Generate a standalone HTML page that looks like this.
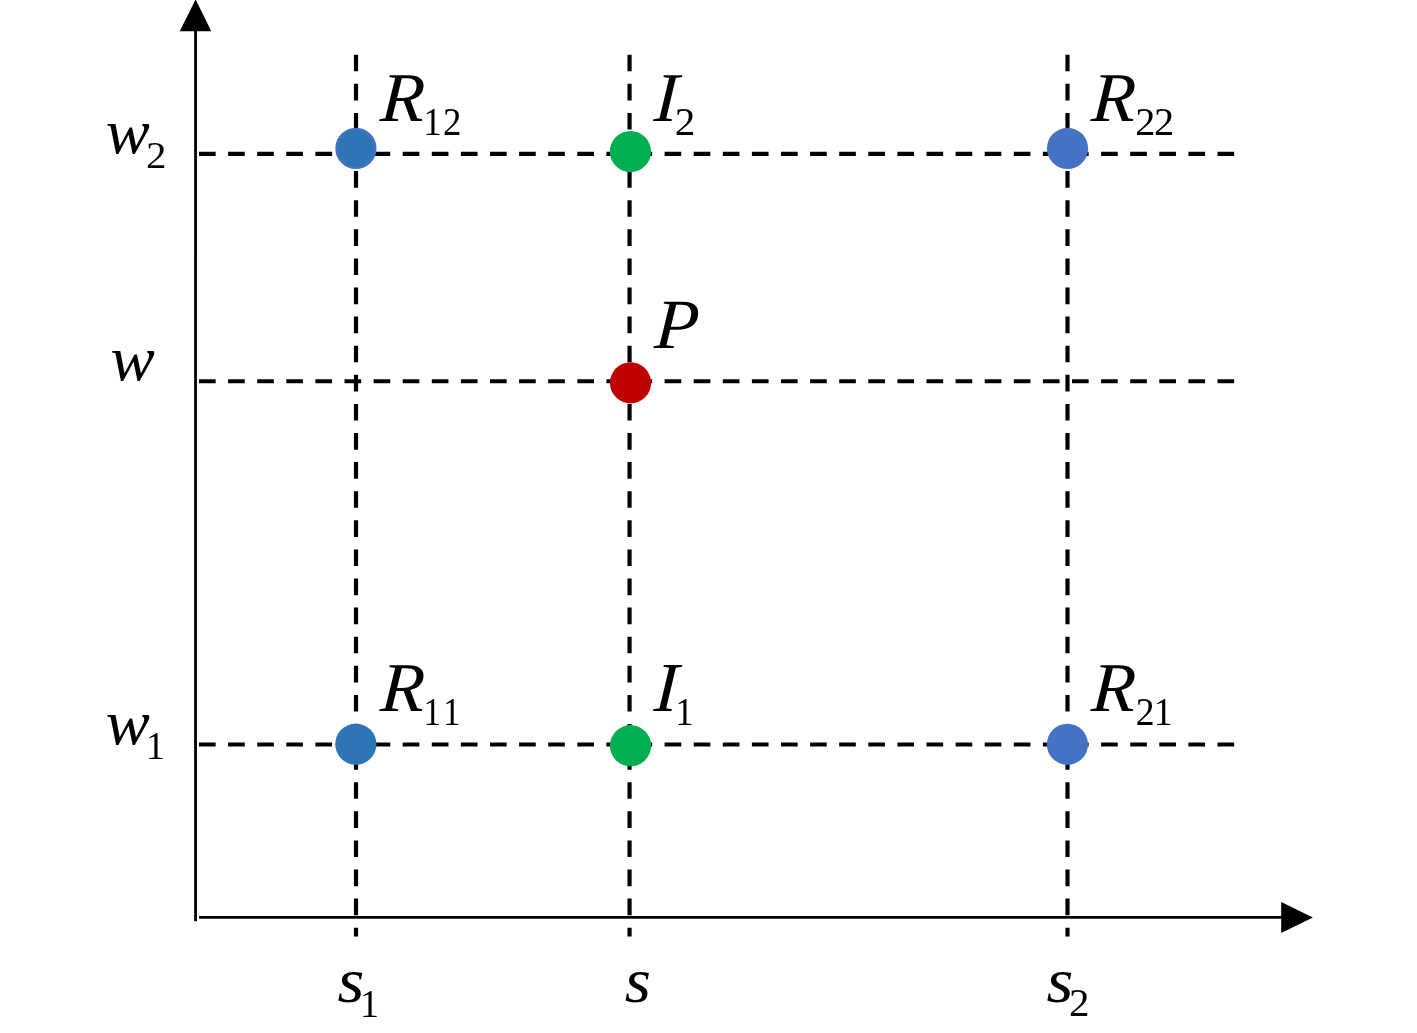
<!DOCTYPE html>
<html lang="en"><head><meta charset="utf-8"><title>Bilinear interpolation diagram</title>
<style>html,body{margin:0;padding:0;background:#fff}body{width:1417px;height:1033px;overflow:hidden}svg{display:block}.m{font-family:"Liberation Serif","DejaVu Serif",serif;font-style:italic;fill:#000}.d{font-family:"Liberation Serif","DejaVu Serif",serif;fill:#000}</style></head><body>
<svg width="1417" height="1033" viewBox="0 0 1417 1033">
<rect width="1417" height="1033" fill="#fff"/>
<g stroke="#000" stroke-width="2.8" fill="none">
<line x1="195.56" y1="30" x2="195.55" y2="921.15"/>
<line x1="199" y1="917.42" x2="1282" y2="917.42"/>
</g>
<polygon points="195.6,-0.6 179.8,31.35 211.3,31.35" fill="#000"/>
<polygon points="1281.2,901.9 1281.2,933.1 1312.9,917.5" fill="#000"/>
<g stroke="#000" stroke-width="4.17" stroke-dasharray="16.65 12.45" fill="none">
<line x1="199.0" y1="153.94" x2="1234.3" y2="153.94"/>
<line x1="199.0" y1="381.28" x2="1234.3" y2="381.28"/>
<line x1="199.0" y1="744.5" x2="1234.3" y2="744.5"/>
<line x1="356.02" y1="54.7" x2="356.02" y2="936.6"/>
<line x1="629.55" y1="54.7" x2="629.55" y2="936.6"/>
<line x1="1067.5" y1="54.7" x2="1067.5" y2="936.6"/>
</g>
<circle cx="355.93" cy="148.41" r="19.450000000000003" fill="#2E75B6" stroke="#4472C4" stroke-width="2.3"/>
<circle cx="630.43" cy="151.54" r="20.6" fill="#00B050"/>
<circle cx="1067.53" cy="148.41" r="20.6" fill="#4472C4"/>
<circle cx="630.53" cy="382.8" r="20.6" fill="#C00000"/>
<circle cx="355.85" cy="744.17" r="20.6" fill="#2E75B6"/>
<circle cx="630.53" cy="745.7" r="20.6" fill="#00B050"/>
<circle cx="1067.41" cy="744.29" r="20.6" fill="#4472C4"/>
<text id="w2" class="m" font-size="69.5" transform="translate(105.65 153.48) scale(0.95 0.9161)" x="0.00" y="0">w</text>
<text id="w2s" class="d" font-size="38.3" transform="translate(145.92 168.15) scale(1.0692 1.0177)" x="0.00" y="0">2</text>
<text id="w" class="m" font-size="69.5" transform="translate(110.53 380.40) scale(0.9546 0.9199)" x="0.00" y="0">w</text>
<text id="w1" class="m" font-size="69.5" transform="translate(105.65 744.46) scale(0.95 0.9192)" x="0.00" y="0">w</text>
<text id="w1s" class="d" font-size="38.3" transform="translate(146.11 758.80) scale(0.9853 1.0297)" x="0.00" y="0">1</text>
<text id="R12" class="m" font-size="69.5" transform="translate(379.56 120.85) skewX(-3.5) scale(1.0349 1.0044)" x="0.00" y="0">R</text>
<text id="R12s" class="d" font-size="38.3" transform="translate(423.37 135.15) scale(0.9601 1.0258)" x="0.00 20.46" y="0">12</text>
<text id="R22" class="m" font-size="69.5" transform="translate(1090.56 120.85) skewX(-3.5) scale(1.0349 1.0044)" x="0.00" y="0">R</text>
<text id="R22s" class="d" font-size="38.3" transform="translate(1135.16 135.15) scale(1.0493 1.0258)" x="0.00 17.92" y="0">22</text>
<text id="R11" class="m" font-size="69.5" transform="translate(379.56 710.85) skewX(-3.5) scale(1.0349 1.0044)" x="0.00" y="0">R</text>
<text id="R11s" class="d" font-size="38.3" transform="translate(423.62 724.65) scale(0.9112 1.0456)" x="0.00 21.19" y="0">11</text>
<text id="R21" class="m" font-size="69.5" transform="translate(1090.56 710.85) skewX(-3.5) scale(1.0349 1.0044)" x="0.00" y="0">R</text>
<text id="R21s" class="d" font-size="38.3" transform="translate(1135.81 724.65) scale(0.9828 1.0456)" x="0.00 18.30" y="0">21</text>
<text id="I2" class="m" font-size="69.5" transform="translate(653.15 120.80) skewX(-3.5) scale(1.0199 1.0055)" x="0.00" y="0">I</text>
<text id="I2s" class="d" font-size="38.3" transform="translate(674.71 135.00) scale(1.0755 1.0258)" x="0.00" y="0">2</text>
<text id="I1" class="m" font-size="69.5" transform="translate(653.15 710.80) skewX(-3.5) scale(1.0206 1.0098)" x="0.00" y="0">I</text>
<text id="I1s" class="d" font-size="38.3" transform="translate(675.27 724.65) scale(0.9558 1.0376)" x="0.00" y="0">1</text>
<text id="P" class="m" font-size="69.5" transform="translate(653.65 348.15) skewX(-3.5) scale(1.0404 1.0176)" x="0.00" y="0">P</text>
<text id="s1" class="m" font-size="69.5" transform="translate(337.52 1001.51) scale(0.9918 0.9143)" x="0.00" y="0">s</text>
<text id="s1s" class="d" font-size="38.3" transform="translate(359.96 1016.50) scale(0.9928 1.0456)" x="0.00" y="0">1</text>
<text id="s" class="m" font-size="69.5" transform="translate(624.83 1001.52) scale(0.9688 0.9144)" x="0.00" y="0">s</text>
<text id="s2" class="m" font-size="69.5" transform="translate(1046.52 1001.51) scale(0.9918 0.9143)" x="0.00" y="0">s</text>
<text id="s2s" class="d" font-size="38.3" transform="translate(1068.92 1016.15) scale(1.0692 1.0338)" x="0.00" y="0">2</text>
</svg></body></html>
